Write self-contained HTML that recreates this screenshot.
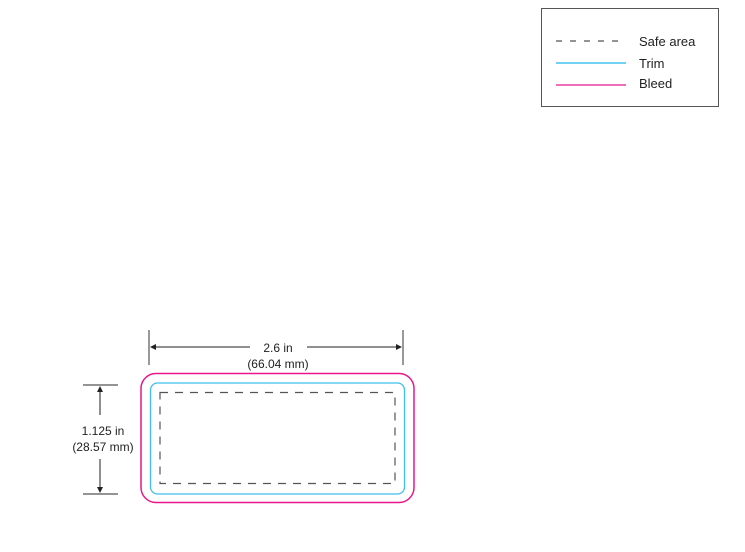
<!DOCTYPE html>
<html><head><style>
body{margin:0;width:745px;height:547px;background:#fff;overflow:hidden}
text{font-family:"Liberation Sans",sans-serif;fill:#222}
</style></head><body>
<svg width="745" height="547" xmlns="http://www.w3.org/2000/svg">
<rect x="541.5" y="8.5" width="177" height="98" fill="none" stroke="#555" stroke-width="1"/>
<line x1="556" y1="41" x2="626" y2="41" stroke="#555" stroke-width="1.2" stroke-dasharray="6,8"/>
<line x1="556" y1="63" x2="626" y2="63" stroke="#1fb5ea" stroke-width="1.3"/>
<line x1="556" y1="85" x2="626" y2="85" stroke="#e8178a" stroke-width="1.3"/>
<text x="639" y="46" font-size="13">Safe area</text>
<text x="639" y="68" font-size="13">Trim</text>
<text x="639" y="88" font-size="13">Bleed</text>

<rect x="141" y="373.5" width="273" height="129" rx="15" fill="none" stroke="#e8178a" stroke-width="1.5"/>
<rect x="150.5" y="383" width="254" height="111" rx="7" fill="none" stroke="#3fbfec" stroke-width="1.3"/>
<rect x="160" y="392.5" width="235" height="91" fill="none" stroke="#555" stroke-width="1.2" stroke-dasharray="8,7"/>

<line x1="149" y1="330" x2="149" y2="365" stroke="#555" stroke-width="1.2"/>
<line x1="403" y1="330" x2="403" y2="365" stroke="#555" stroke-width="1.2"/>
<line x1="151" y1="347" x2="250" y2="347" stroke="#222" stroke-width="1"/>
<line x1="307" y1="347" x2="401" y2="347" stroke="#222" stroke-width="1"/>
<path d="M150,347 l6,-3 v6z M402,347 l-6,-3 v6z" fill="#222"/>
<text x="278" y="352" font-size="12" text-anchor="middle">2.6 in</text>
<text x="278" y="368" font-size="12" text-anchor="middle">(66.04 mm)</text>

<line x1="83" y1="385" x2="118" y2="385" stroke="#555" stroke-width="1.2"/>
<line x1="83" y1="494" x2="118" y2="494" stroke="#555" stroke-width="1.2"/>
<line x1="100" y1="387" x2="100" y2="415" stroke="#222" stroke-width="1"/>
<line x1="100" y1="459" x2="100" y2="492" stroke="#222" stroke-width="1"/>
<path d="M100,386 l-3,6 h6z M100,493 l-3,-6 h6z" fill="#222"/>
<text x="103" y="435" font-size="12" text-anchor="middle">1.125 in</text>
<text x="103" y="451" font-size="12" text-anchor="middle">(28.57 mm)</text>
</svg>
</body></html>
